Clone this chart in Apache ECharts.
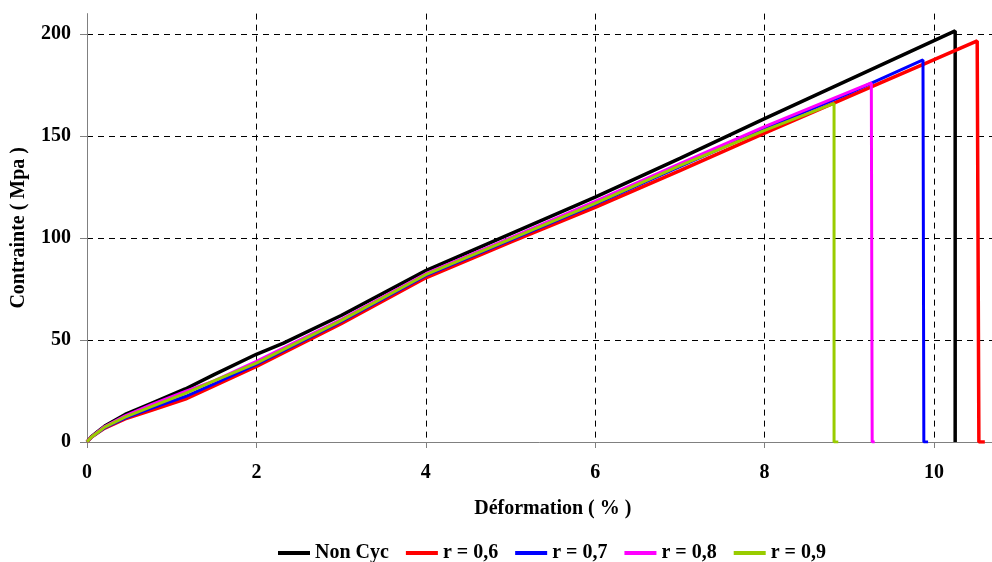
<!DOCTYPE html>
<html>
<head>
<meta charset="utf-8">
<script src="https://cdn.jsdelivr.net/npm/echarts@6/dist/echarts.min.js"></script>
<style>html,body{margin:0;padding:0;background:#fff}#c{width:992px;height:562px}</style>
</head>
<body>
<div id="c"></div>
<script>
const seriesNames = ['Non Cyc', 'r = 0,6', 'r = 0,7', 'r = 0,8', 'r = 0,9'];
const seriesColors = ['#000000', '#ff0000', '#0000ff', '#ff00ff', '#99cc00'];

const nonCycStrain = [0, 0.05, 0.13, 0.21, 0.45, 0.76, 1.16, 1.5, 2, 2.32, 3, 4, 5, 6, 7, 8, 9, 10.25, 10.25];
const nonCycStress = [0, 2.5, 5.2, 7.8, 13.5, 19, 26, 33, 43, 48.5, 62, 84, 102, 120, 139, 158.5, 177.6, 201.5, 0];

const r06Strain = [0, 0.05, 0.13, 0.21, 0.45, 0.76, 1.16, 1.5, 2, 3, 4, 5, 6, 7, 8, 9, 9.9, 10.51, 10.53, 10.6];
const r06Stress = [0, 2.3, 4.6, 6.8, 11.3, 15.5, 21, 27.5, 37, 58, 80.5, 98, 115, 133, 151.4, 169.4, 185.6, 196.6, 0, 0];

const r07Strain = [0, 0.05, 0.13, 0.21, 0.45, 0.76, 1.16, 1.5, 2, 3, 4, 5, 6, 7, 8, 9, 9.87, 9.88, 9.93];
const r07Stress = [0, 2.3, 4.7, 7, 11.7, 16.5, 22.3, 28.5, 38, 59, 81.5, 99, 116.5, 135, 153.5, 171, 187.3, 0, 0];

const r08Strain = [0, 0.05, 0.13, 0.21, 0.45, 0.76, 1.16, 1.5, 2, 3, 4, 5, 6, 7, 8, 9, 9.26, 9.27, 9.3];
const r08Stress = [0, 2.4, 5, 7.6, 12.8, 18.3, 24.8, 30, 39.5, 60, 82.5, 100, 118, 136.5, 154.6, 171.6, 176, 0, 0];

const r09Strain = [0, 0.05, 0.13, 0.21, 0.45, 0.76, 1.16, 1.5, 2, 3, 4, 5, 6, 7, 8, 8.82, 8.82, 8.87];
const r09Stress = [0, 2.3, 4.8, 7.3, 12.2, 17.3, 23.8, 30, 38.7, 59.5, 82, 99.5, 117, 135.5, 152.8, 166, 0, 0];

const xTicks = { min: 0, max: 11, interval: 2 };
const yTicks = { min: 0, max: 210, interval: 50 };

const strains = [nonCycStrain, r06Strain, r07Strain, r08Strain, r09Strain];
const stresses = [nonCycStress, r06Stress, r07Stress, r08Stress, r09Stress];
const widths = [3.5, 3.5, 3, 3, 3];

const font = 'Liberation Serif';
const chart = echarts.init(document.getElementById('c'));
chart.setOption({
  animation: false,
  backgroundColor: '#fff',
  grid: { left: 87, top: 13.6, bottom: 120, right: -26.7, containLabel: false, outerBoundsMode: 'none' },
  legend: {
    top: 538,
    left: 273,
    icon: 'rect',
    itemWidth: 32,
    itemHeight: 4,
    itemGap: 17,
    textStyle: { fontFamily: font, fontWeight: 'bold', fontSize: 20, color: '#000' },
    data: seriesNames
  },
  xAxis: {
    type: 'value',
    min: xTicks.min, max: xTicks.max, interval: xTicks.interval,
    name: 'Déformation ( % )',
    nameLocation: 'middle',
    nameGap: 57,
    nameTextStyle: { fontFamily: font, fontWeight: 'bold', fontSize: 20, color: '#000' },
    axisLine: { lineStyle: { color: '#808080', width: 1 } },
    axisTick: { show: true, inside: false, length: 6, lineStyle: { color: '#808080' } },
    axisLabel: { fontFamily: font, fontWeight: 'bold', fontSize: 20, color: '#000', margin: 21, showMaxLabel: false },
    splitLine: { show: true, showMinLine: false, showMaxLine: false, lineStyle: { color: '#000', type: [6, 5], width: 1 } }
  },
  yAxis: {
    type: 'value',
    min: yTicks.min, max: yTicks.max, interval: yTicks.interval,
    name: 'Contrainte ( Mpa )',
    nameLocation: 'middle',
    nameGap: 58,
    nameRotate: 90,
    nameTextStyle: { fontFamily: font, fontWeight: 'bold', fontSize: 20, color: '#000' },
    axisLine: { show: true, lineStyle: { color: '#808080', width: 1 } },
    axisTick: { show: true, inside: false, length: 7, lineStyle: { color: '#808080' } },
    axisLabel: { fontFamily: font, fontWeight: 'bold', fontSize: 20, color: '#000', margin: 16, showMaxLabel: false },
    splitLine: { show: true, showMinLine: false, showMaxLine: false, lineStyle: { color: '#000', type: [6, 5], width: 1 } }
  },
  series: seriesNames.map((n, i) => ({
    name: n,
    type: 'line',
    showSymbol: false,
    symbol: 'none',
    color: seriesColors[i],
    lineStyle: { color: seriesColors[i], width: widths[i] },
    emphasis: { disabled: true },
    data: strains[i].map((x, k) => [x, stresses[i][k]])
  }))
});
</script>
</body>
</html>
